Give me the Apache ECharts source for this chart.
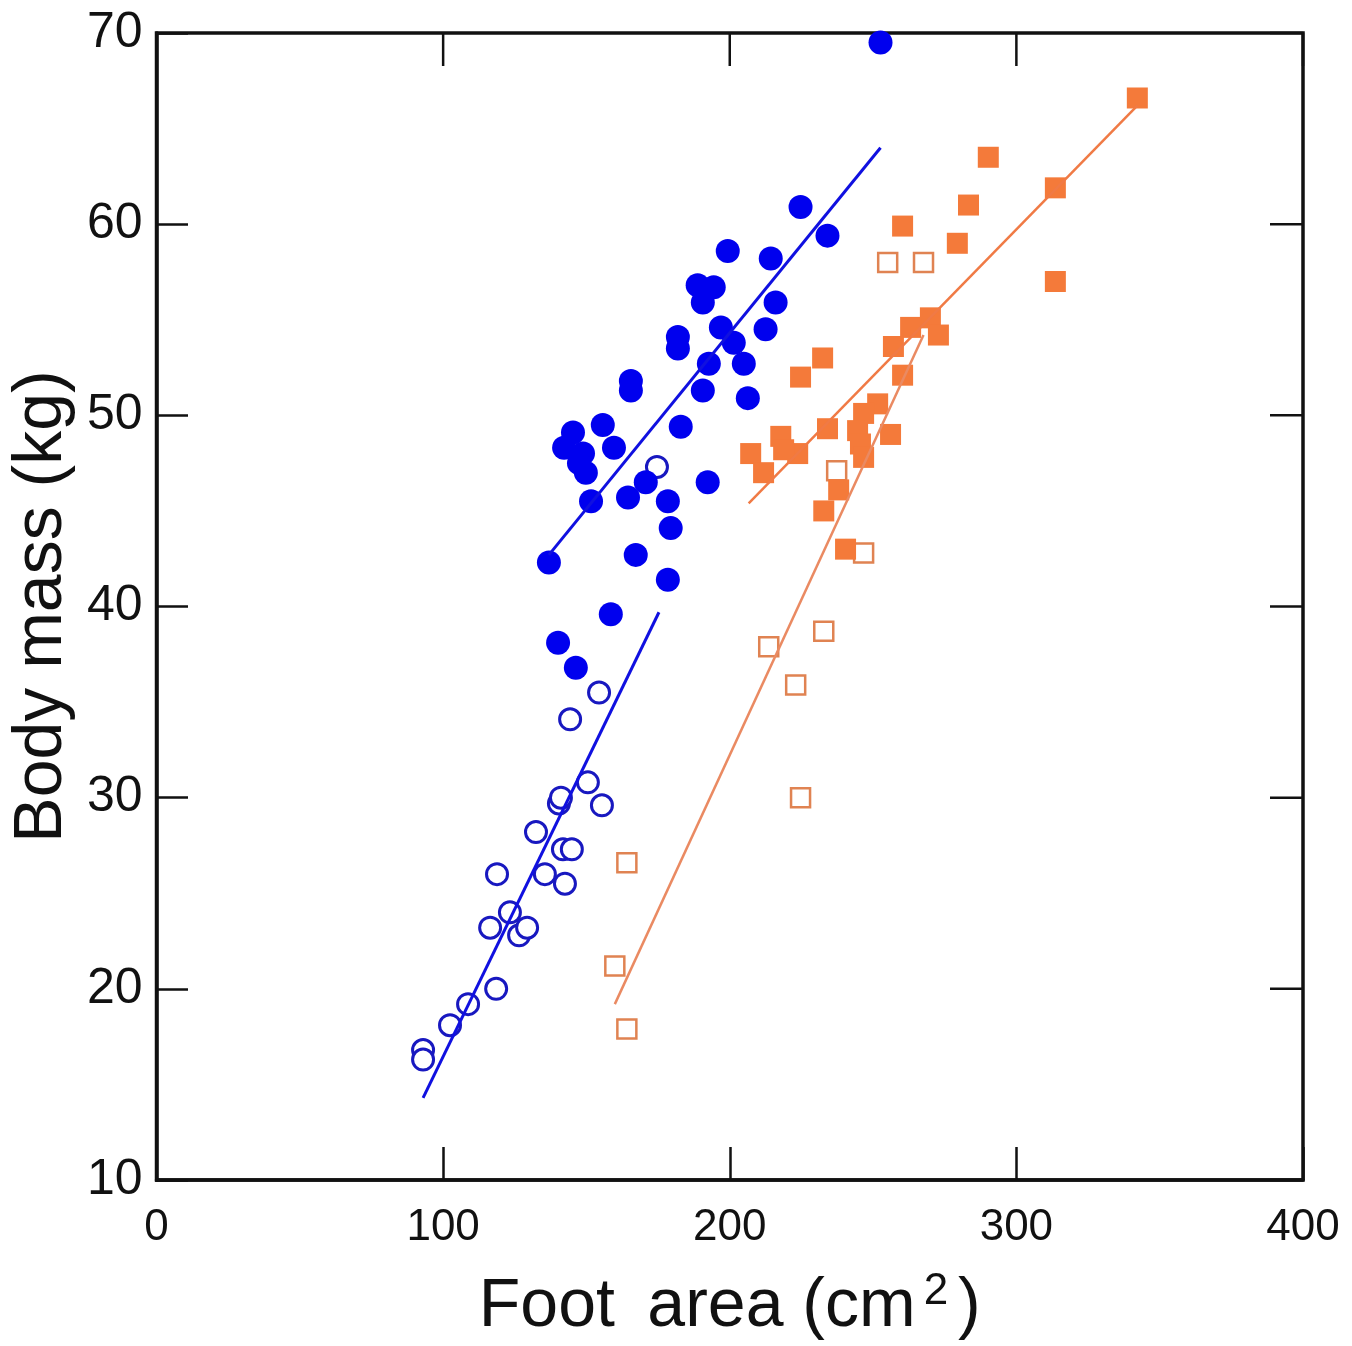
<!DOCTYPE html>
<html>
<head>
<meta charset="utf-8">
<script src="https://cdn.jsdelivr.net/npm/echarts@6/dist/echarts.min.js"></script>
<style>html,body{margin:0;padding:0;background:#fff}#c{width:1352px;height:1346px}</style>
</head>
<body>
<div id="c"></div>
<script>
// Foot area (cm2), body mass (kg)
const blueFilled = [
  [252.6,69.5],[224.7,60.9],[234.1,59.4],[199.3,58.6],[214.3,58.2],[188.8,56.8],[194.4,56.7],
  [190.6,55.9],[216.0,55.9],[212.5,54.5],[196.9,54.6],[201.4,53.8],[204.9,52.7],[192.7,52.7],
  [181.9,54.1],[181.9,53.5],[165.5,51.8],[165.5,51.3],[190.6,51.3],[206.3,50.9],[182.9,49.4],
  [145.3,49.1],[155.7,49.5],[142.2,48.3],[148.8,48.0],[147.4,47.5],[159.6,48.3],[149.8,47.0],
  [151.6,45.5],[164.5,45.7],[170.7,46.5],[178.4,45.5],[192.3,46.5],[179.4,44.1],[167.2,42.7],
  [178.4,41.4],[136.9,42.3],[158.5,39.6],[140.1,38.1],[146.3,36.8]
];
const blueOpen = [
  [93.0,16.8],[93.0,16.3],[102.4,18.1],[108.7,19.2],[118.5,20.0],[116.4,23.2],[118.8,26.0],
  [123.3,24.0],[126.5,22.8],[129.3,23.2],[132.4,28.2],[135.5,26.0],[140.4,29.7],[141.1,30.0],
  [141.8,27.3],[144.9,27.3],[142.5,25.5],[144.3,34.1],[150.5,30.8],[154.4,35.5],[155.4,29.6],
  [174.6,47.3]
];
const orangeFilled = [
  [342.2,66.6],[290.2,63.5],[283.3,61.0],[260.3,59.9],[279.4,59.0],[313.6,61.9],[313.6,57.0],
  [270.0,55.1],[263.1,54.6],[272.8,54.2],[257.1,53.6],[232.4,53.0],[224.7,52.0],[260.3,52.1],
  [251.6,50.6],[246.7,50.1],[244.6,49.2],[245.6,48.5],[246.7,47.8],[256.1,49.0],[234.1,49.3],
  [207.3,48.0],[217.8,48.9],[211.8,47.0],[223.7,48.0],[218.8,48.2],[238.0,46.1],[232.8,45.0],
  [240.4,43.0]
];
const orangeOpen = [
  [159.9,21.2],[164.1,17.9],[164.1,26.6],[213.6,37.9],[223.0,35.9],[232.8,38.7],[224.7,30.0],
  [237.3,47.1],[246.7,42.8],[255.1,58.0],[267.6,58.0]
];
// fitted regression line end points
const blueFilledFit = [[136.9,42.7],[252.6,64.0]];
const blueOpenFit = [[93.0,14.3],[175.3,39.7]];
const orangeFilledFit = [[206.6,45.4],[342.2,66.2]];
const orangeOpenFit = [[159.9,19.2],[267.6,54.2]];

const xTicks = [0,100,200,300,400];
const yTicks = [10,20,30,40,50,60,70];

const BLUE = '#0000ee';
const ORANGE = '#f47a3a';
const FONT = '"Liberation Sans", Arial, sans-serif';
const TICK_LEN = 33;
const INK = '#111';

const xMin = xTicks[0], xMax = xTicks[xTicks.length-1];
const yMin = yTicks[0], yMax = yTicks[yTicks.length-1];
const GRID = {left:155, right:49, top:33, bottom:166};

const chart = echarts.init(document.getElementById('c'), null, {renderer:'canvas'});
const tickStyle = {show:true, inside:true, length:TICK_LEN, lineStyle:{color:INK, width:2.5}};
const lineStyle = {show:true, lineStyle:{color:INK, width:3.5}};

chart.setOption({
  animation:false,
  backgroundColor:'#fff',
  grid:[
    Object.assign({show:true, borderColor:INK, borderWidth:3.5}, GRID),
    Object.assign({}, GRID)
  ],
  xAxis:[
    {type:'value', gridIndex:0, min:xMin, max:xMax, interval:100,
     axisLine:lineStyle, axisTick:tickStyle, splitLine:{show:false},
     axisLabel:{color:INK, fontSize:44, fontFamily:FONT, margin:26},
     name:'Foot\u2009 area (cm{sup|2})', nameLocation:'middle', nameGap:90,
     nameTextStyle:{color:INK, fontSize:68, fontFamily:FONT,
       rich:{sup:{fontSize:44, fontFamily:FONT, color:INK, verticalAlign:'top', padding:[0,10,30,8]}}}},
    {type:'value', gridIndex:1, min:xMin, max:xMax, interval:100, show:false}
  ],
  yAxis:[
    {type:'value', gridIndex:0, min:yMin, max:yMax, interval:10,
     axisLine:lineStyle, axisTick:{show:false}, splitLine:{show:false},
     axisLabel:{color:INK, fontSize:50, fontFamily:FONT, margin:14},
     name:'Body mass (kg)', nameLocation:'middle', nameGap:68, nameRotate:90,
     nameTextStyle:{color:INK, fontSize:68, fontFamily:FONT}},
    {type:'value', gridIndex:1, min:yMin, max:yMax, interval:10,
     axisLine:{show:false}, axisLabel:{show:false}, splitLine:{show:false},
     axisTick:{show:true, inside:true, length:TICK_LEN, lineStyle:{color:INK, width:2.5}}}
  ],
  series:[
    {type:'scatter', data:blueOpen, symbol:'circle', symbolSize:21,
     itemStyle:{color:'#ffffff', borderColor:'#1818c0', borderWidth:3, opacity:1}},
    {type:'scatter', data:blueFilled, symbol:'circle', symbolSize:24,
     itemStyle:{color:BLUE, opacity:1}},
    {type:'scatter', data:orangeOpen, symbol:'rect', symbolSize:19,
     itemStyle:{color:'#ffffff', borderColor:'#e08352', borderWidth:2.5, opacity:1}},
    {type:'scatter', data:orangeFilled, symbol:'rect', symbolSize:21,
     itemStyle:{color:ORANGE, opacity:1}},
    {type:'line', data:blueFilledFit, symbol:'none', lineStyle:{color:'#1010e0', width:3}, z:3},
    {type:'line', data:blueOpenFit, symbol:'none', lineStyle:{color:'#1010e0', width:3}, z:3},
    {type:'line', data:orangeFilledFit, symbol:'none', lineStyle:{color:'#f07a45', width:2.5}, z:3},
    {type:'line', data:orangeOpenFit, symbol:'none', lineStyle:{color:'#ea8a62', width:2.5}, z:3}
  ]
});

// mirrored ticks on the right and top frame, placed through the chart's own scales
const tickEls = [];
yTicks.forEach(v => {
  const pR = chart.convertToPixel({gridIndex:0}, [xMax, v]);
  tickEls.push({type:'rect', z:100, silent:true,
    shape:{x:pR[0]-TICK_LEN, y:pR[1]-1.25, width:TICK_LEN, height:2.5}, style:{fill:INK}});
});
xTicks.forEach(v => {
  const p = chart.convertToPixel({gridIndex:0}, [v, yMax]);
  tickEls.push({type:'rect', z:100, silent:true,
    shape:{x:p[0]-1.25, y:p[1], width:2.5, height:TICK_LEN}, style:{fill:INK}});
});
chart.setOption({graphic:{elements:tickEls}});
</script>
</body>
</html>
